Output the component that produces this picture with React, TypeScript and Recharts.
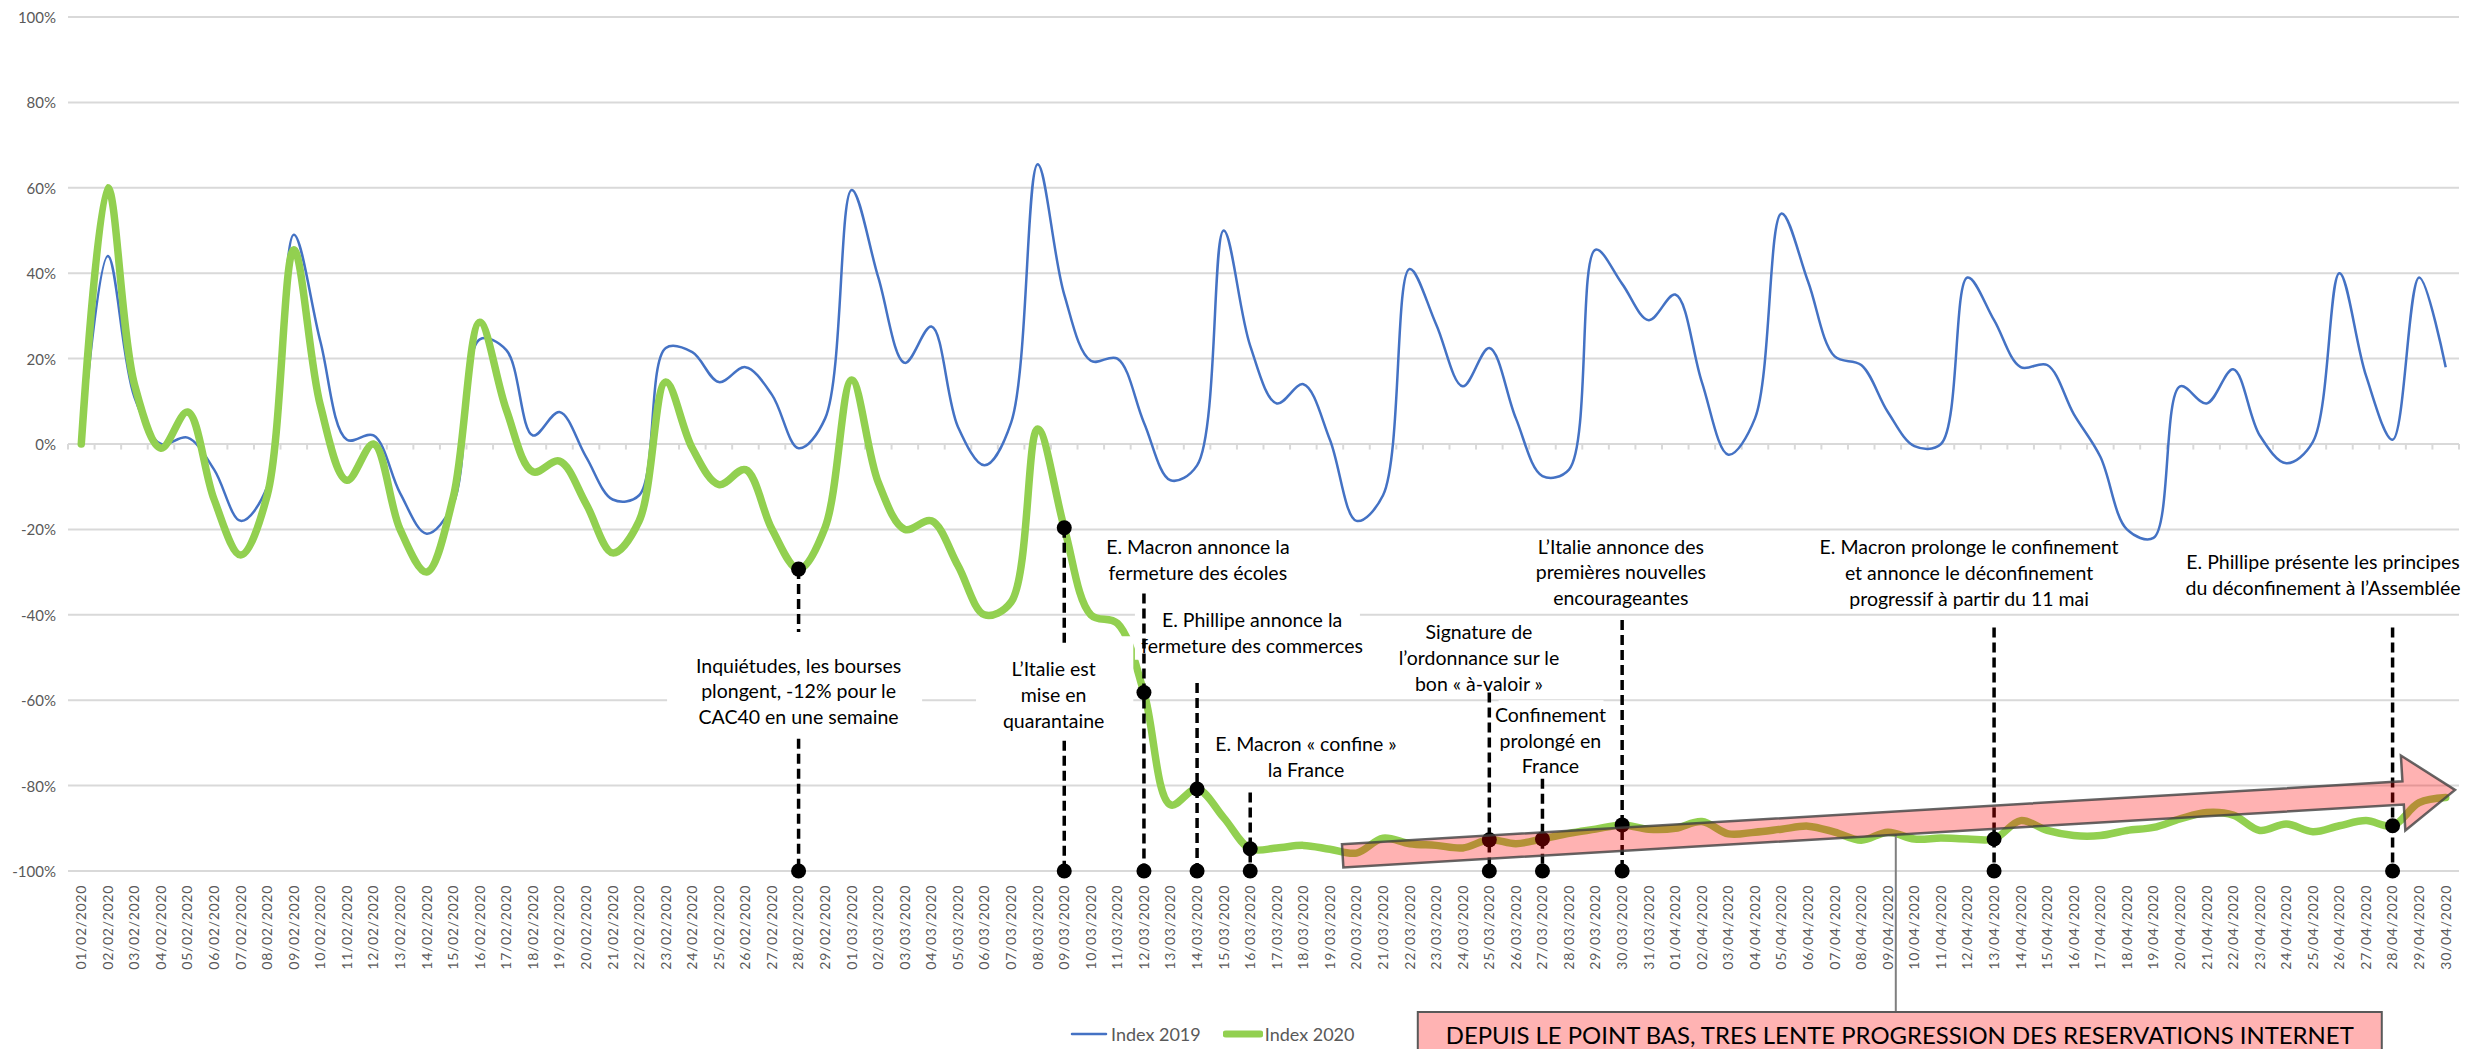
import React from 'react';
import {
  CartesianGrid,
  Legend,
  Line,
  LineChart,
  ReferenceArea,
  ReferenceDot,
  ReferenceLine,
  XAxis,
  YAxis,
} from 'recharts';

document.body.style.margin = '0';

const FONT = 'Lato, "Open Sans", "DejaVu Sans", sans-serif';

// daily categories, 01/02/2020 -> 30/04/2020
const months: [string, number][] = [
  ['02', 29],
  ['03', 31],
  ['04', 30],
];
const dates: string[] = months.flatMap(([m, n]) =>
  Array.from({ length: n }, (_, i) => `${String(i + 1).padStart(2, '0')}/${m}/2020`),
);

// index vs reference, in %
const index2019 = [
  0, 44, 11, 0, 1.5, -6, -18, -10, 49, 24,
  1, 2, -11.5, -21, -14, 24.5, 22, 2, 7.5, -3,
  -13, -12, 22.5, 21.5, 14.5, 18, 11.5, -1, 6, 59.5,
  39, 19, 27.5, 4, -5, 5, 65.5, 35, 19.5, 20,
  5, -8.5, -5, 50, 23, 9.5, 14, 1, -18, -12,
  41, 28, 13.5, 22.5, 6, -7.5, -6, 45.5, 37.5, 29,
  35, 14.5, -2.5, 6, 54, 38, 20.5, 18.5, 7.5, -0.5,
  0, 39, 29, 18, 18.5, 7, -3, -20, -22, 13.5,
  9.5, 17.5, 2, -4.5, 0.5, 40, 16, 1, 39, 18,
];

const index2020 = [
  0, 60, 14, -1, 7.5, -13, -26, -12, 45.5, 9,
  -8.5, 0, -20, -30, -12.5, 28.5, 8, -6.5, -4, -14,
  -25.5, -18, 14.5, -1, -9.5, -6, -20, -29.3, -19.5, 15,
  -9, -20, -18, -28.5, -40, -37, 3.5, -19.6, -40, -42,
  -58.2, -84.5, -80.8, -87.5, -94.8, -94.6, -94, -94.9, -95.8, -92.3,
  -93.6, -94, -94.6, -92.7, -93.6, -92.5, -91.2, -90.2, -89.2, -90.2,
  -90, -88.4, -91.3, -90.9, -90.2, -89.5, -90.9, -92.8, -90.9, -92.5,
  -92.3, -92.5, -92.5, -88.2, -90.5, -91.7, -91.7, -90.5, -89.8, -87.8,
  -86.3, -86.9, -90.5, -89, -90.8, -89.4, -88.2, -89.4, -84, -82.8,
];

const yTicks = [-100, -80, -60, -40, -20, 0, 20, 40, 60, 80, 100];

const rows = dates.map((date, i) => ({ idx: i, date, y2019: index2019[i], y2020: index2020[i] }));
const dayOf = (d: string) => dates.indexOf(d);

// annotation layout (positions in day index / % units)
type Note = {
  date: string;
  lines: string[];
  x: number;
  y: number;
  box: [number, number, number, number];
  dashes: [number | null, number][];
};

const notes: Note[] = [
  {
    date: '28/02/2020',
    lines: ['Inquiétudes, les bourses', 'plongent, -12% pour le', 'CAC40 en une semaine'],
    x: 27, y: -51.8, box: [22.05, 31.65, -44, -69],
    dashes: [[null, -44], [-69, -100]],
  },
  {
    date: '09/03/2020',
    lines: ['L’Italie est', 'mise en', 'quarantaine'],
    x: 36.6, y: -52.6, box: [33.68, 39.6, -45, -69.5],
    dashes: [[null, -47], [-69.5, -100]],
  },
  {
    date: '12/03/2020',
    lines: ['E. Macron annonce la', 'fermeture des écoles'],
    x: 42.03, y: -24, box: [38.2, 45.9, -21, -33],
    dashes: [[-35, -100]],
  },
  {
    date: '14/03/2020',
    lines: ['E. Phillipe annonce la', 'fermeture des commerces'],
    x: 44.07, y: -41.2, box: [39.66, 48.13, -38, -50.5],
    dashes: [[-56, -100]],
  },
  {
    date: '16/03/2020',
    lines: ['E. Macron « confine »', 'la France'],
    x: 46.1, y: -70.1, box: [42.33, 49.86, -66.5, -79],
    dashes: [[-81.6, -100]],
  },
  {
    date: '25/03/2020',
    lines: ['Signature de', 'l’ordonnance sur le', 'bon « à-valoir »'],
    x: 52.61, y: -44, box: [49.04, 56.19, -41, -58],
    dashes: [[-58.2, -100]],
  },
  {
    date: '27/03/2020',
    lines: ['Confinement', 'prolongé en', 'France'],
    x: 55.3, y: -63.3, box: [53.35, 57.3, -60, -78],
    dashes: [[-78.4, -100]],
  },
  {
    date: '30/03/2020',
    lines: ['L’Italie annonce des', 'premières nouvelles', 'encourageantes'],
    x: 57.95, y: -23.9, box: [54.53, 61.38, -21, -39],
    dashes: [[-41.2, -100]],
  },
  {
    date: '13/04/2020',
    lines: ['E. Macron prolonge le confinement', 'et annonce le déconfinement', 'progressif à partir du 11 mai'],
    x: 71.06, y: -24, box: [65.26, 76.93, -21, -39],
    dashes: [[-43, -100]],
  },
  {
    date: '28/04/2020',
    lines: ['E. Phillipe présente les principes', 'du déconfinement à l’Assemblée'],
    x: 84.38, y: -27.5, box: [79.2, 89.35, -24.5, -38],
    dashes: [[-43, -100]],
  },
];

const arrowTail = { x: 47.48, y: -96.45 };
const arrowTip = { x: 89.35, y: -81 };
const calloutAnchor = { x: 68.3, y: -91.5 };
const CALLOUT_TEXT = 'DEPUIS LE POINT BAS, TRES LENTE PROGRESSION DES RESERVATIONS INTERNET';

const LINE_H = 25.8;
const boundaries = Array.from({ length: 91 }, (_, k) => k - 0.5);

// Excel-like smoothing: centripetal Catmull-Rom in screen space (flat valleys, little overshoot)
const crDist = (a: number[], b: number[]) => Math.sqrt(Math.hypot(b[0] - a[0], b[1] - a[1]));
const excelSmooth = (context: any) => {
  let pts: number[][] = [];
  return {
    areaStart() {},
    areaEnd() {},
    lineStart() {
      pts = [];
    },
    point(x: number, y: number) {
      pts.push([+x, +y]);
    },
    lineEnd() {
      const n = pts.length;
      if (!n) return;
      context.moveTo(pts[0][0], pts[0][1]);
      for (let i = 0; i < n - 1; i++) {
        const p1 = pts[i];
        const p2 = pts[i + 1];
        const p0 = i > 0 ? pts[i - 1] : null;
        const p3 = i + 2 < n ? pts[i + 2] : null;
        const d2 = crDist(p1, p2);
        let c1x = p1[0];
        let c1y = p1[1];
        let c2x = p2[0];
        let c2y = p2[1];
        if (p0) {
          const d1 = crDist(p0, p1);
          if (d1 > 1e-9) {
            const a = 2 * d1 * d1 + 3 * d1 * d2 + d2 * d2;
            const m = 3 * d1 * (d1 + d2);
            c1x = (p1[0] * a - p0[0] * d2 * d2 + p2[0] * d1 * d1) / m;
            c1y = (p1[1] * a - p0[1] * d2 * d2 + p2[1] * d1 * d1) / m;
          }
        }
        if (p3) {
          const d3 = crDist(p2, p3);
          if (d3 > 1e-9) {
            const b = 2 * d3 * d3 + 3 * d3 * d2 + d2 * d2;
            const m = 3 * d3 * (d3 + d2);
            c2x = (p2[0] * b + p1[0] * d3 * d3 - p3[0] * d2 * d2) / m;
            c2y = (p2[1] * b + p1[1] * d3 * d3 - p3[1] * d2 * d2) / m;
          }
        }
        context.bezierCurveTo(c1x, c1y, c2x, c2y, p2[0], p2[1]);
      }
    },
  };
};

function DateTick({ x, y, payload }: any) {
  return (
    <text
      x={x}
      y={y}
      dy="0.35em"
      textAnchor="end"
      transform={`rotate(-90, ${x}, ${y})`}
      fontSize={14}
      letterSpacing={0.7}
      fill="#595959"
      fontFamily={FONT}
    >
      {dates[payload.value]}
    </text>
  );
}

function PctTick({ x, y, payload }: any) {
  return (
    <text x={x} y={y} textAnchor="end" dominantBaseline="central" fontSize={15} fill="#595959" fontFamily={FONT}>
      {`${payload.value}%`}
    </text>
  );
}

const noteText = (lines: string[]) => (p: any) => (
  <text textAnchor="middle" fontSize={19.5} fontFamily={FONT} fill="#000">
    {lines.map((l, i) => (
      <tspan key={i} x={p.cx} y={p.cy + i * LINE_H} dominantBaseline="central">
        {l}
      </tspan>
    ))}
  </text>
);

function ArrowShape(p: any) {
  const { x1, y1, x2, y2 } = p;
  const len = Math.hypot(x2 - x1, y2 - y1);
  const ux = (x2 - x1) / len;
  const uy = (y2 - y1) / len;
  const nx = -uy;
  const ny = ux;
  const h = 11.6; // shaft half thickness
  const H = 37.5; // head half width
  const L = 52; // head length
  const bx = x2 - ux * L;
  const by = y2 - uy * L;
  const pts = [
    [x1 - nx * h, y1 - ny * h],
    [bx - nx * h, by - ny * h],
    [bx - nx * H, by - ny * H],
    [x2, y2],
    [bx + nx * H, by + ny * H],
    [bx + nx * h, by + ny * h],
    [x1 + nx * h, y1 + ny * h],
  ];
  return (
    <polygon
      points={pts.map((q) => q.join(',')).join(' ')}
      fill="#ff0000"
      fillOpacity={0.3}
      stroke="#404040"
      strokeOpacity={0.8}
      strokeWidth={2.5}
      strokeLinejoin="miter"
    />
  );
}

const CALLOUT_TOP = 1012;
function CalloutShape(p: any) {
  const { cx, cy } = p;
  return (
    <g>
      <line x1={cx} y1={cy} x2={cx} y2={CALLOUT_TOP} stroke="#7f7f7f" strokeWidth={2} />
      <rect x={cx - 478} y={CALLOUT_TOP} width={964} height={60} fill="#ffb3b3" stroke="#595959" strokeWidth={2} />
      <text
        x={cx + 4}
        y={CALLOUT_TOP + 23}
        textAnchor="middle"
        dominantBaseline="central"
        fontSize={23}
        fontFamily={FONT}
        fill="#000"
        textLength={908}
        lengthAdjust="spacingAndGlyphs"
      >
        {CALLOUT_TEXT}
      </text>
    </g>
  );
}

const legendWidths: Record<string, number> = { y2019: 2.5, y2020: 7 };
function LegendContent({ payload }: any) {
  return (
    <div style={{ display: 'flex', alignItems: 'center', fontFamily: FONT, fontSize: 18, color: '#595959' }}>
      {(payload || []).map((e: any) => (
        <div key={e.value} style={{ display: 'flex', alignItems: 'center', marginRight: 22 }}>
          <svg width={40} height={12}>
            <line x1={3} y1={6} x2={37} y2={6} stroke={e.color} strokeWidth={legendWidths[e.dataKey]} strokeLinecap="round" />
          </svg>
          <span style={{ marginLeft: 2 }}>{e.value}</span>
        </div>
      ))}
    </div>
  );
}

export default function App() {
  return (
    <div style={{ width: 2474, height: 1049, background: '#fff', position: 'relative' }}>
      <LineChart width={2474} height={1049} data={rows} margin={{ top: 17, right: 15, bottom: 78, left: 8 }}>
        <CartesianGrid horizontal vertical={false} stroke="#d9d9d9" strokeWidth={2} />
        <XAxis
          dataKey="idx"
          type="number"
          domain={[-0.5, 89.5]}
          ticks={rows.map((r) => r.idx)}
          interval={0}
          height={100}
          tickSize={0}
          tickMargin={14}
          axisLine={false}
          tickLine={false}
          tick={<DateTick />}
        />
        <YAxis
          domain={[-100, 100]}
          ticks={yTicks}
          interval={0}
          width={60}
          tickSize={0}
          tickMargin={12}
          axisLine={false}
          tickLine={false}
          tick={<PctTick />}
        />
        {boundaries.map((b) => (
          <ReferenceLine
            key={`t${b}`}
            segment={[{ x: b, y: 0 }, { x: b, y: -1.3 }]}
            stroke="#d9d9d9"
            strokeWidth={2}
          />
        ))}
        <Legend
          layout="horizontal"
          verticalAlign="middle"
          align="center"
          wrapperStyle={{ top: 1023, left: 1069, width: 340, height: 24 }}
          content={<LegendContent />}
        />
        <Line
          name="Index 2019"
          dataKey="y2019"
          type={excelSmooth as any}
          stroke="#4472c4"
          strokeWidth={2.5}
          dot={false}
          activeDot={false}
          isAnimationActive={false}
        />
        <Line
          name="Index 2020"
          dataKey="y2020"
          type={excelSmooth as any}
          stroke="#92d050"
          strokeWidth={7.5}
          strokeLinecap="round"
          strokeLinejoin="round"
          dot={false}
          activeDot={false}
          isAnimationActive={false}
        />
        {notes.map((n) => (
          <ReferenceArea
            key={`b${n.date}`}
            x1={n.box[0]}
            x2={n.box[1]}
            y1={n.box[3]}
            y2={n.box[2]}
            fill="#fff"
            fillOpacity={1}
            stroke="none"
            zIndex={700}
          />
        ))}
        {notes.map((n) => (
          <ReferenceDot
            key={`l${n.date}`}
            x={n.x}
            y={n.y}
            r={1}
            shape={noteText(n.lines)}
            zIndex={750}
          />
        ))}
        {notes.flatMap((n) =>
          n.dashes.map(([top, bottom], j) => {
            const d = dayOf(n.date);
            return (
              <ReferenceLine
                key={`d${n.date}${j}`}
                segment={[{ x: d, y: top ?? index2020[d] }, { x: d, y: bottom }]}
                stroke="#000"
                strokeWidth={3.5}
                strokeDasharray="10 5"
                zIndex={800}
              />
            );
          }),
        )}
        {notes.flatMap((n) => {
          const d = dayOf(n.date);
          return [
            <ReferenceDot key={`g${n.date}`} x={d} y={index2020[d]} r={7.5} fill="#000" stroke="none" zIndex={900} />,
            <ReferenceDot key={`z${n.date}`} x={d} y={-100} r={7.5} fill="#000" stroke="none" zIndex={900} />,
          ];
        })}
        <ReferenceDot x={calloutAnchor.x} y={calloutAnchor.y} r={1} shape={CalloutShape} zIndex={950} />
        <ReferenceLine segment={[arrowTail, arrowTip]} shape={ArrowShape} zIndex={1000} />
      </LineChart>
    </div>
  );
}
